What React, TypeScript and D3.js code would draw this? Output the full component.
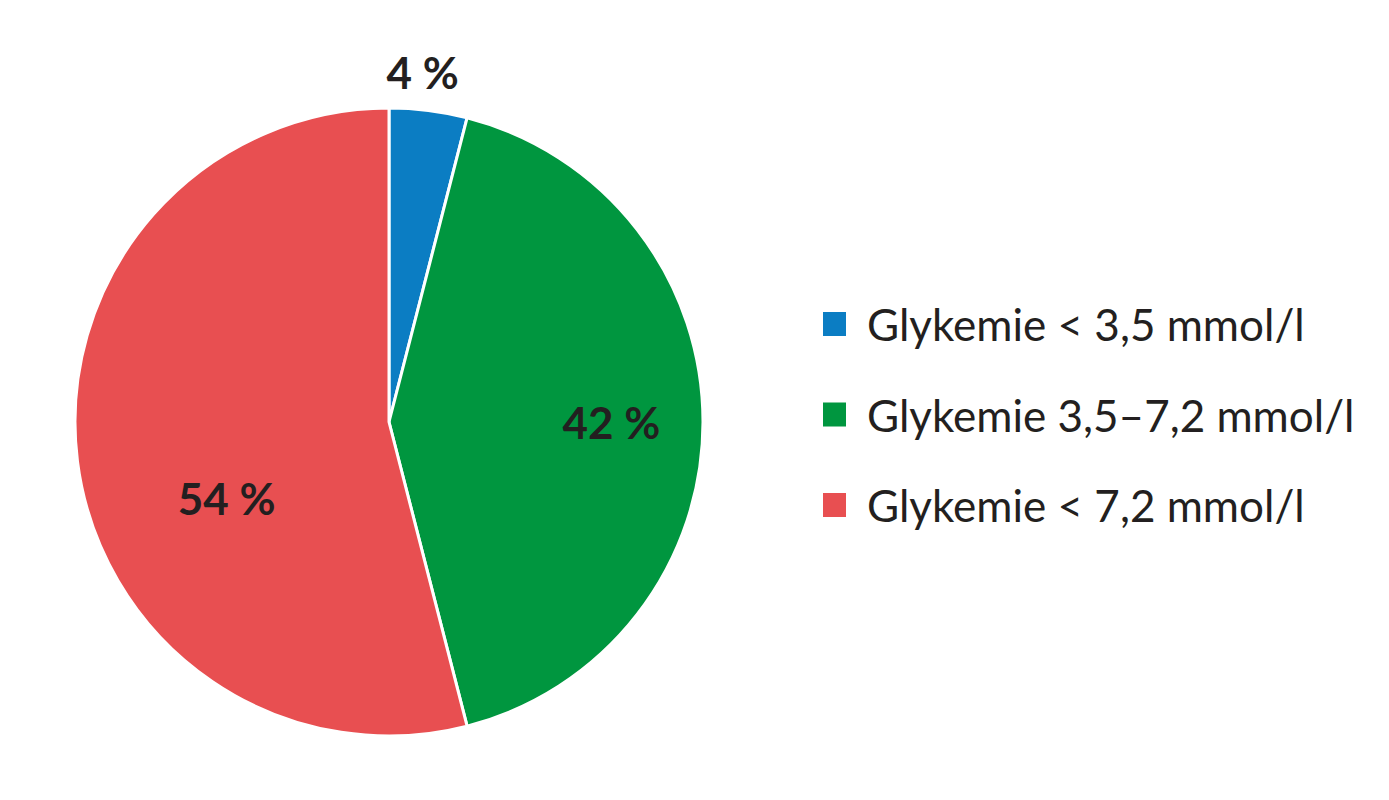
import React, { useEffect, useRef } from 'react';
import * as d3 from 'd3';

const categories = ['Glykemie < 3,5 mmol/l', 'Glykemie 3,5–7,2 mmol/l', 'Glykemie < 7,2 mmol/l'];
const shares = [4, 42, 54];
const colors = ['#0b7dc3', '#00963f', '#e84f51'];

const App: React.FC = () => {
  const svgRef = useRef<SVGSVGElement>(null);

  useEffect(() => {
    if (!svgRef.current) return;
    const width = 1389;
    const height = 800;
    const cx = 389;
    const cy = 422;
    const radius = 314;

    const svg = d3.select(svgRef.current)
      .attr('viewBox', `0 0 ${width} ${height}`)
      .html('');

    svg.append('rect').attr('width', width).attr('height', height).attr('fill', '#fff');

    const data = categories.map((c, i) => ({ name: c, value: shares[i], color: colors[i] }));
    const pie = d3.pie<any>().value(d => d.value).sort(null);
    const arc = d3.arc<any>().innerRadius(0).outerRadius(radius);
    const arcs = pie(data);

    const g = svg.append('g').attr('transform', `translate(${cx}, ${cy})`);

    g.selectAll('path.slice')
      .data(arcs)
      .enter()
      .append('path')
      .attr('class', 'slice')
      .attr('d', arc)
      .attr('fill', d => d.data.color)
      .attr('stroke', '#fff')
      .attr('stroke-width', 3)
      .attr('stroke-linejoin', 'round');

    // label placement: small slice outside, others inside (Excel-like best fit)
    const labelPos = (d: any, i: number) => {
      const mid = (d.startAngle + d.endAngle) / 2;
      if (i === 0) {
        const a = mid - 0.03;
        const r = radius * 1.12;
        return [Math.sin(a) * r, -Math.cos(a) * r];
      }
      if (i === 1) {
        const r = radius * 0.708;
        return [Math.sin(mid) * r, -Math.cos(mid) * r];
      }
      const a = mid - 0.31;
      const r = radius * 0.57;
      return [Math.sin(a) * r, -Math.cos(a) * r];
    };

    g.selectAll('text.pct')
      .data(arcs)
      .enter()
      .append('text')
      .attr('class', 'pct')
      .attr('x', (d, i) => labelPos(d, i)[0])
      .attr('y', (d, i) => labelPos(d, i)[1])
      .attr('text-anchor', 'middle')
      .attr('dominant-baseline', 'central')
      .attr('font-family', 'Lato, sans-serif')
      .attr('font-weight', 'bold')
      .attr('font-size', 44)
      .attr('fill', '#231f20')
      .text(d => `${d.data.value} %`);

    // legend
    const legend = svg.append('g').attr('transform', 'translate(823, 324)');
    const rows = legend.selectAll('g.row')
      .data(data)
      .enter()
      .append('g')
      .attr('class', 'row')
      .attr('transform', (d, i) => `translate(0, ${i * 90.5})`);

    rows.append('rect')
      .attr('x', 0)
      .attr('y', -12)
      .attr('width', 23)
      .attr('height', 24)
      .attr('fill', d => d.color);

    rows.append('text')
      .attr('x', 44)
      .attr('y', 0)
      .attr('dominant-baseline', 'central')
      .attr('font-family', 'Lato, sans-serif')
      .attr('font-size', 44)
      .attr('fill', '#231f20')
      .text(d => d.name);
  }, []);

  return (
    <svg ref={svgRef} width={1389} height={800} style={{ display: 'block', margin: '-8px' }}></svg>
  );
};

export default App;
